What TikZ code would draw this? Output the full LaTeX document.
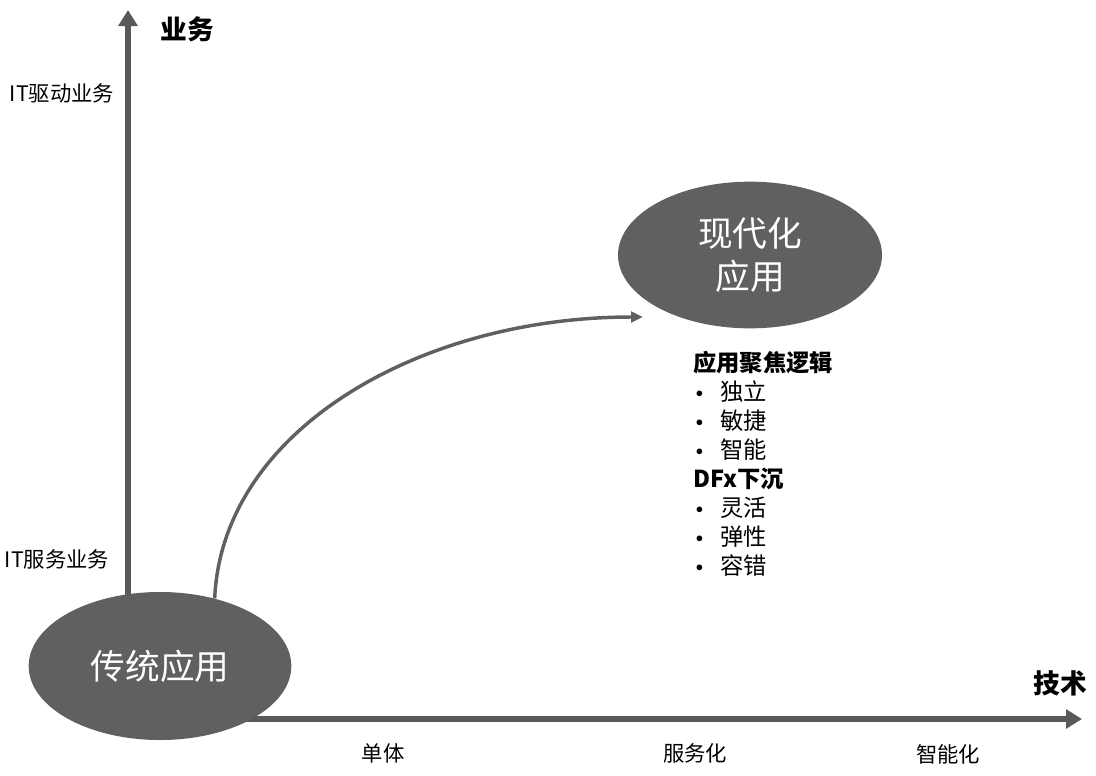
\documentclass[tikz,border=0pt]{standalone}
\usepackage{fontspec}
\setmainfont{Noto Sans CJK SC}
\usetikzlibrary{arrows.meta,shapes.geometric}
\definecolor{axisgray}{HTML}{595959}
\definecolor{blobgray}{HTML}{606060}
\newcommand{\listdot}{\makebox[20.25pt][l]{\hspace{2pt}\raisebox{2.5pt}{\fontsize{11}{11}\selectfont$\bullet$}}}
\tikzset{
  axis/.style={draw=axisgray,line width=4.5pt,-{Triangle[width=14pt,length=12pt]}},
  flow/.style={draw=blobgray,line width=2.6pt,-{Triangle[width=8pt,length=9pt]}},
  blob/.style={ellipse,fill=blobgray,text=white,inner sep=0pt,align=center,
    font=\fontsize{26}{32}\selectfont},
  head/.style={inner sep=0pt,font=\fontsize{20}{24}\selectfont\bfseries},
  lbl/.style={inner sep=0pt,font=\fontsize{16}{20}\selectfont},
  list/.style={inner sep=0pt,align=left,anchor=north west,
    font=\fontsize{17.5}{21.75}\selectfont}
}
\begin{document}
\begin{tikzpicture}[x=0.75pt,y=-0.75pt]
      \useasboundingbox (0,0) rectangle (1096,775);
      \path
        (128,719) coordinate (o)
        (128,10) coordinate (up)
        (1082,719) coordinate (right)
        (643,317) coordinate (goal);
      \begin{scope}[axis]
        \draw (o) to (up);
        \draw (o) to (right);
      \end{scope}
      \draw
        (160,666) node[blob,minimum width=197pt,minimum height=111pt] (trad){传统应用}
        (750,255) node[blob,minimum width=198pt,minimum height=110pt] (modern){现代化\\应用}
        (187,29) node[head] (biz){业务}
        (1060,683) node[head] (tech){技术}
        (62,93) node[lbl] (drive){IT驱动业务}
        (57,559) node[lbl] (serve){IT服务业务}
        (383,753) node[lbl] (mono){单体}
        (695,753) node[lbl] (svc){服务化}
        (948,754) node[lbl] (smart){智能化}
        (693,351) node[list] (points){\textbf{应用聚焦逻辑}\\
          \listdot 独立\\
          \listdot 敏捷\\
          \listdot 智能\\
          \textbf{DFx下沉}\\
          \listdot 灵活\\
          \listdot 弹性\\
          \listdot 容错};
      \begin{scope}[flow]
        \draw (trad.51) .. controls (222,430) and (420,317) .. (goal);
      \end{scope}
    \end{tikzpicture}
\end{document}
